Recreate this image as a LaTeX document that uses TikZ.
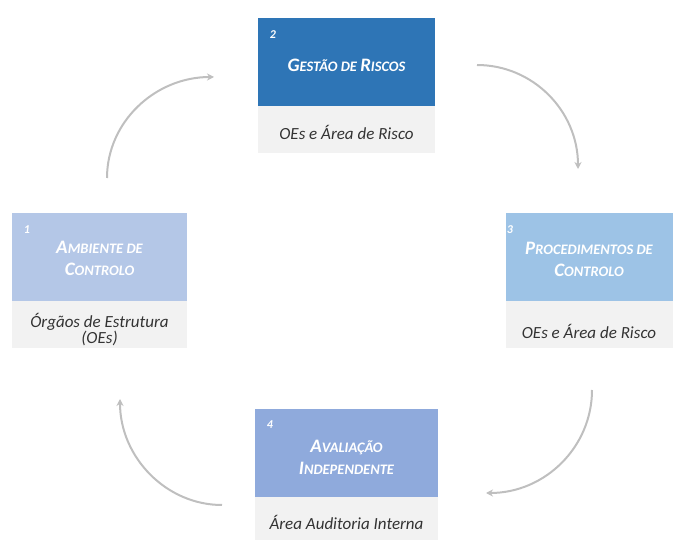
\documentclass[tikz,border=0pt]{standalone}
\usepackage{fontspec}
\setmainfont{Carlito}
\usetikzlibrary{arrows.meta}
\definecolor{dblue}{HTML}{2E75B6}
\definecolor{lblueA}{HTML}{B4C7E7}
\definecolor{lblueC}{HTML}{9DC3E6}
\definecolor{lblueD}{HTML}{8FAADC}
\definecolor{greyband}{HTML}{F2F2F2}
\definecolor{subtxt}{HTML}{333333}
\definecolor{arrowgrey}{HTML}{BFBFBF}
\newcommand\bigc[1]{{\fontsize{19}{22}\selectfont #1}}
\newcommand\smallc[1]{{\fontsize{14.5}{22}\selectfont #1}}
\tikzset{
  bluebox/.style={draw=none, minimum height=88pt, inner sep=0pt, anchor=north west},
  greybox/.style={fill=greyband, draw=none, inner sep=0pt, anchor=north west},
  titletext/.style={text=white, font=\bfseries\itshape\fontsize{14.5}{22}\selectfont, align=center, inner sep=0pt},
  subtext/.style={text=subtxt, font=\itshape\fontsize{17}{17}\selectfont, align=center, inner sep=0pt},
  numtext/.style={text=white, font=\bfseries\itshape\fontsize{12}{12}\selectfont, inner sep=0pt},
  cycarrow/.style={draw=arrowgrey, line width=2pt, -{Stealth[length=7pt,width=7pt]}}
}
\begin{document}
\begin{tikzpicture}[x=1pt,y=-1pt]
\useasboundingbox (0,0) rectangle (673,540);
% Box 2
\node[bluebox, fill=dblue, minimum width=177pt] (b2) at (258,18) {};
\node[greybox, minimum width=177pt, minimum height=47pt] (g2) at (258,106) {};
\node[numtext] (n2) at (273,35) {2};
\node[titletext] (t2) at (346.5,65) {\bigc{G}\smallc{ESTÃO DE} \bigc{R}\smallc{ISCOS}};
\node[subtext] (s2) at (346.5,132) {OEs e Área de Risco};
% Box 1
\node[bluebox, fill=lblueA, minimum width=175pt] (b1) at (12,213) {};
\node[greybox, minimum width=175pt, minimum height=47pt] (g1) at (12,301) {};
\node[numtext] (n1) at (27,230) {1};
\node[titletext] (t1) at (99.5,258) {\bigc{A}\smallc{MBIENTE DE}\\\bigc{C}\smallc{ONTROLO}};
\node[subtext, font=\itshape\fontsize{17}{16}\selectfont] (s1) at (99.5,330) {Órgãos de Estrutura\\(OEs)};
% Box 3
\node[bluebox, fill=lblueC, minimum width=167pt] (b3) at (506,213) {};
\node[greybox, minimum width=167pt, minimum height=47pt] (g3) at (506,301) {};
\node[numtext] (n3) at (510,230) {3};
\node[titletext] (t3) at (589,259) {\bigc{P}\smallc{ROCEDIMENTOS DE}\\\bigc{C}\smallc{ONTROLO}};
\node[subtext] (s3) at (589,331) {OEs e Área de Risco};
% Box 4
\node[bluebox, fill=lblueD, minimum width=183pt] (b4) at (255,409) {};
\node[greybox, minimum width=183pt, minimum height=43pt] (g4) at (255,497) {};
\node[numtext] (n4) at (270,425) {4};
\node[titletext] (t4) at (346.5,457) {\bigc{A}\smallc{VALIAÇÃO}\\\bigc{I}\smallc{NDEPENDENTE}};
\node[subtext] (s4) at (346.5,522) {Área Auditoria Interna};
% Arrows
\coordinate (a1s) at (107,178); \coordinate (a1e) at (214,77);
\coordinate (a2s) at (477,65);  \coordinate (a2e) at (578,169);
\coordinate (a3s) at (592,390); \coordinate (a3e) at (486,493);
\coordinate (a4s) at (222,505); \coordinate (a4e) at (120,399);
\draw[cycarrow] (a1s) .. controls (107,122) and (155,77) .. (a1e);
\draw[cycarrow] (a2s) .. controls (533,65) and (578,111) .. (a2e);
\draw[cycarrow] (a3s) .. controls (592,447) and (545,493) .. (a3e);
\draw[cycarrow] (a4s) .. controls (166,505) and (120,457) .. (a4e);
\end{tikzpicture}
\end{document}
